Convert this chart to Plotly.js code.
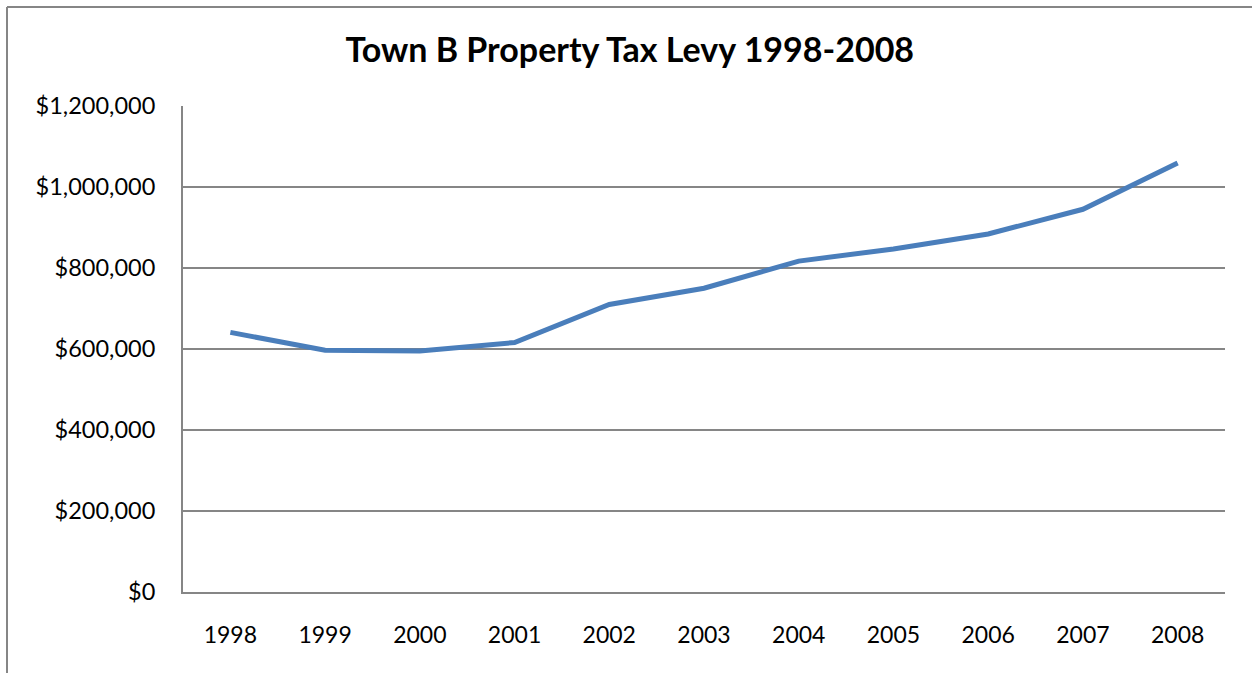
<!DOCTYPE html>
<html>
<head>
<meta charset="utf-8">
<script src="https://cdn.plot.ly/plotly-3.0.1.min.js"></script>
<style>html,body{margin:0;padding:0;background:#fff;}#chart{width:1252px;height:673px;}</style>
</head>
<body>
<div id="chart"></div>
<script>
const years = ['1998','1999','2000','2001','2002','2003','2004','2005','2006','2007','2008'];
const levy = [641000, 597000, 595000, 616000, 710000, 750000, 817000, 847000, 884000, 945000, 1059000];
const yTickVals = [0, 200000, 400000, 600000, 800000, 1000000, 1200000];
const yTickText = ['$0', '$200,000', '$400,000', '$600,000', '$800,000', '$1,000,000', '$1,200,000'];
const chartTitle = 'Town B Property Tax Levy 1998-2008';

const W = 1252, H = 673, L = 183, R = 27, T = 106, B = 81;
const pw = W - L - R, ph = H - T - B;
const px = v => (v - L) / pw;
const py = v => (H - B - v) / ph;

const trace = {
  x: years, y: levy, type: 'scatter', mode: 'lines',
  line: {color: '#4a7ebb', width: 5},
  hoverinfo: 'skip'
};

const layout = {
  width: W, height: H,
  margin: {l: L, r: R, t: T, b: B, pad: 0},
  paper_bgcolor: '#ffffff', plot_bgcolor: '#ffffff',
  showlegend: false,
  font: {family: 'Lato, "Open Sans", sans-serif', color: '#000000'},
  title: {text: '<b>' + chartTitle + '</b>', font: {size: 34, family: 'Lato, sans-serif', color: '#000'},
          x: 0.503, xanchor: 'center', y: 1 - 50 / H, yanchor: 'middle'},
  xaxis: {type: 'category', range: [-0.5, 10.5], showgrid: false, zeroline: false,
          showline: true, linecolor: '#868686', linewidth: 2, ticks: '',
          tickfont: {size: 23}, ticklabelstandoff: 21, fixedrange: true},
  yaxis: {range: [0, 1200000], tickvals: yTickVals, ticktext: yTickText,
          showgrid: true, gridcolor: '#868686', gridwidth: 1.5, zeroline: false,
          showline: true, linecolor: '#868686', linewidth: 2, ticks: '',
          tickfont: {size: 23.5}, ticklabelstandoff: 21, fixedrange: true},
  shapes: [
    {type: 'line', xref: 'paper', yref: 'paper', x0: px(7), x1: px(7), y0: py(7), y1: py(700), line: {color: '#868686', width: 2}},
    {type: 'line', xref: 'paper', yref: 'paper', x0: px(7), x1: px(1300), y0: py(7), y1: py(7), line: {color: '#868686', width: 2}}
  ]
};

Plotly.newPlot('chart', [trace], layout, {displayModeBar: false, staticPlot: true});
</script>
</body>
</html>
